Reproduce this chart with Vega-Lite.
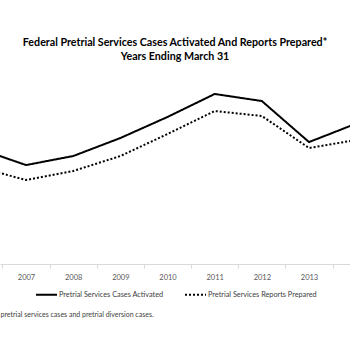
{
  "$schema": "https://vega.github.io/schema/vega-lite/v6.json",
  "width": 350,
  "height": 194,
  "autosize": "none",
  "padding": {"top": 70, "left": 0, "right": 0, "bottom": 86},
  "background": "white",
  "config": {"view": {"stroke": null}, "font": "Lato"},
  "title": {
    "text": ["Federal Pretrial Services Cases Activated And Reports Prepared*", "Years Ending March 31"],
    "font": "Lato",
    "fontSize": 10.7,
    "fontWeight": "bold",
    "color": "#000000",
    "anchor": "middle",
    "lineHeight": 14.5,
    "offset": 7
  },
  "data": {
    "values": [
      {"year": 2006, "series": "Pretrial Services Cases Activated", "value": 83.2},
      {"year": 2007, "series": "Pretrial Services Cases Activated", "value": 71.4},
      {"year": 2008, "series": "Pretrial Services Cases Activated", "value": 77.9},
      {"year": 2009, "series": "Pretrial Services Cases Activated", "value": 90.9},
      {"year": 2010, "series": "Pretrial Services Cases Activated", "value": 106.1},
      {"year": 2011, "series": "Pretrial Services Cases Activated", "value": 122.7},
      {"year": 2012, "series": "Pretrial Services Cases Activated", "value": 117.6},
      {"year": 2013, "series": "Pretrial Services Cases Activated", "value": 88.0},
      {"year": 2014, "series": "Pretrial Services Cases Activated", "value": 101.3},
      {"year": 2006, "series": "Pretrial Services Reports Prepared", "value": 69.8},
      {"year": 2007, "series": "Pretrial Services Reports Prepared", "value": 60.6},
      {"year": 2008, "series": "Pretrial Services Reports Prepared", "value": 67.1},
      {"year": 2009, "series": "Pretrial Services Reports Prepared", "value": 77.9},
      {"year": 2010, "series": "Pretrial Services Reports Prepared", "value": 93.8},
      {"year": 2011, "series": "Pretrial Services Reports Prepared", "value": 110.4},
      {"year": 2012, "series": "Pretrial Services Reports Prepared", "value": 106.8},
      {"year": 2013, "series": "Pretrial Services Reports Prepared", "value": 83.7},
      {"year": 2014, "series": "Pretrial Services Reports Prepared", "value": 89.5}
    ]
  },
  "resolve": {"axis": {"x": "independent"}},
  "layer": [
    {
      "mark": {"type": "line", "clip": true, "color": "#000000", "strokeWidth": 2},
      "encoding": {
        "x": {
          "field": "year", "type": "quantitative",
          "scale": {"domain": [2006.449, 2013.869], "nice": false, "zero": false},
          "axis": {
            "orient": "bottom",
            "values": [2006.5, 2007.5, 2008.5, 2009.5, 2010.5, 2011.5, 2012.5, 2013.5],
            "labels": false, "grid": false, "title": null,
            "domainColor": "#d9d9d9", "tickColor": "#d9d9d9", "tickSize": 4, "domainWidth": 1, "tickWidth": 1
          }
        },
        "y": {
          "field": "value", "type": "quantitative",
          "scale": {"domain": [0, 140], "nice": false},
          "axis": null
        },
        "strokeDash": {
          "field": "series", "type": "nominal",
          "scale": {"domain": ["Pretrial Services Cases Activated", "Pretrial Services Reports Prepared"], "range": [[1, 0], [2, 2]]},
          "legend": {
            "title": null,
            "orient": "none",
            "legendX": 35,
            "legendY": 213,
            "direction": "horizontal",
            "symbolType": "stroke",
            "symbolSize": 441,
            "symbolStrokeWidth": 2,
            "symbolStrokeColor": "#000000",
            "labelFont": "Lato",
            "labelFontSize": 7.3,
            "labelColor": "#404040",
            "labelOffset": 1,
            "columnPadding": 17
          }
        }
      }
    },
    {
      "mark": {"type": "line", "clip": true, "opacity": 0},
      "encoding": {
        "x": {
          "field": "year", "type": "quantitative",
          "axis": {
            "orient": "bottom",
            "values": [2006, 2007, 2008, 2009, 2010, 2011, 2012, 2013, 2014],
            "format": "d",
            "ticks": false, "domain": false, "grid": false,
            "labelFont": "Lato", "labelFontSize": 7.5, "labelColor": "#595959", "labelPadding": 9,
            "labelOverlap": false, "labelBound": false, "labelFlush": false,
            "title": "pretrial services cases and pretrial diversion cases.",
            "titleFont": "Lato", "titleFontSize": 7, "titleFontWeight": "normal", "titleColor": "#404040",
            "titleX": 0, "titleY": 50, "titleAlign": "left", "titleAnchor": "start", "titleBaseline": "middle"
          }
        },
        "y": {"field": "value", "type": "quantitative"},
        "detail": {"field": "series"}
      }
    }
  ]
}
